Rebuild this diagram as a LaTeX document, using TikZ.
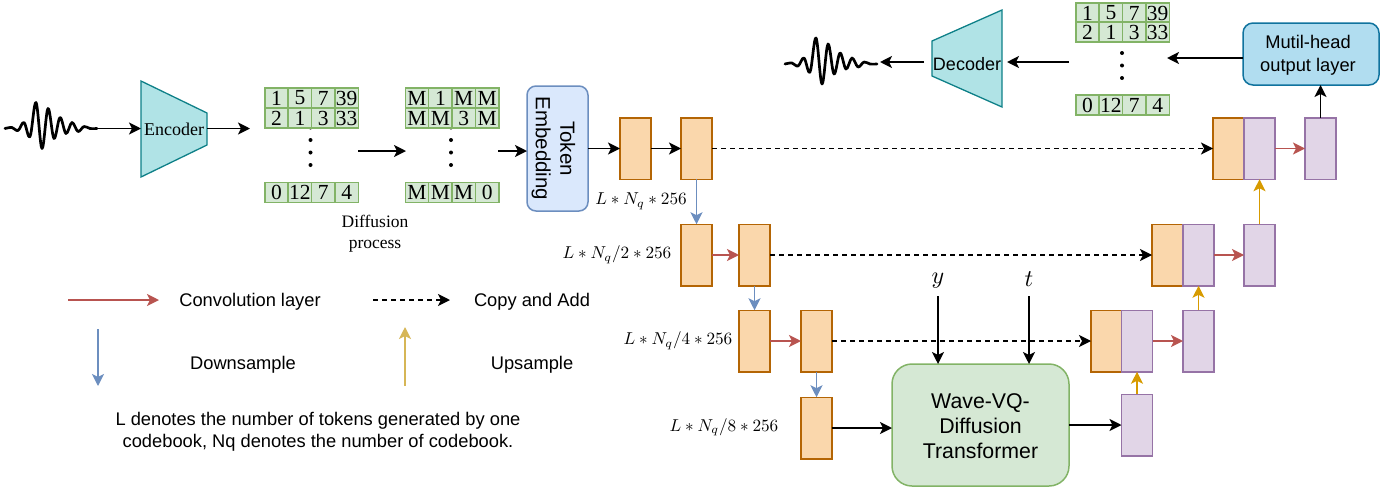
\documentclass[tikz,border=0pt]{standalone}
\usepackage{fontspec}
\setmainfont{Liberation Sans}
\newfontfamily\serifface{Liberation Serif}
\usetikzlibrary{arrows.meta}
\definecolor{orf}{HTML}{FAD7AC}\definecolor{ord}{HTML}{B46504}
\definecolor{puf}{HTML}{E1D5E7}\definecolor{pud}{HTML}{9673A6}
\definecolor{grf}{HTML}{D5E8D4}\definecolor{grd}{HTML}{82B366}
\definecolor{tef}{HTML}{B0E3E6}\definecolor{ted}{HTML}{0E8088}
\definecolor{blf}{HTML}{DAE8FC}\definecolor{bld}{HTML}{6C8EBF}
\definecolor{skf}{HTML}{B1DDF0}\definecolor{skd}{HTML}{10739E}
\definecolor{redc}{HTML}{B85450}\definecolor{goldc}{HTML}{D79B00}\definecolor{goldl}{HTML}{D6B656}
\tikzset{
 orangeb/.style={draw=ord,fill=orf,line width=1.5pt,minimum width=31pt,minimum height=61.5pt,inner sep=0,outer sep=0},
 purpleb/.style={draw=pud,fill=puf,line width=1.5pt,minimum width=31pt,minimum height=61.5pt,inner sep=0,outer sep=0},
 cell/.style={draw=grd,fill=grf,line width=1.5pt,minimum width=23.4pt,minimum height=20pt,inner sep=0,outer sep=0,font=\serifface\fontsize{21.5}{21.5}\selectfont},
 tip/.style={-{Stealth[length=12pt,width=12pt,inset=3pt]}},
 bk/.style={tip,line width=1.9pt,black},
 rd/.style={tip,line width=1.9pt,redc},
 bl/.style={tip,line width=1.9pt,bld},
 gd/.style={tip,line width=1.9pt,goldc},
 dsh/.style={-{Stealth[length=12pt,width=12pt,inset=3pt]},line width=1.4pt,black,dash pattern=on 4.5pt off 4.5pt},
 lab/.style={font=\fontsize{18.3}{22}\selectfont,inner sep=0,align=center},
 mlab/.style={scale=1.72,inner sep=0},
 bigm/.style={scale=2.4,inner sep=0},
 wav/.style={line width=2.7pt,black,line join=round,line cap=round},
}
\newcommand{\tokrow}[7]{%
 \node[cell] (#1a) at (#2,#3) {#4};
 \node[cell] (#1b) at (#2+23.4,#3) {#5};
 \node[cell] (#1c) at (#2+46.8,#3) {#6};
 \node[cell] (#1d) at (#2+70.2,#3) {#7};}
\newcommand{\vdotsat}[2]{%
 \foreach \d in {0,12.5,25,37.5}{\fill[black] (#1,#2+\d) circle (2pt);}}
\newcommand{\wavedraw}[2]{%
 \draw[wav,xshift=#1 pt,yshift=-#2 pt] plot[smooth,tension=0.6] coordinates {(5,0)(12,-1)(18,2)(24,-6)(30,8)(36,-26)(42,20)(48,-20)(54,10)(60,-11)(66,5)(72,-6)(78,3)(84,-2)(90,0)(97,0)};}
\begin{document}
\begin{tikzpicture}[x=1pt,y=-1pt]
\useasboundingbox (0,0) rectangle (1396,491);
% waves
\wavedraw{0}{128.5}
\wavedraw{780}{64}
\coordinate (wa) at (97,128.5);
\coordinate (wb) at (880,62);
% encoder
\draw[fill=tef,draw=ted,line width=1.3pt] (141,81) -- (207,113) -- (207,145) -- (141,177) -- cycle;
\node[inner sep=0,font=\serifface\fontsize{18}{18}\selectfont] (enc) at (174,129.5) {Encoder};
\coordinate (encl) at (141,128.5);
\coordinate (encr) at (207,128.5);
\coordinate (encout) at (250,128.5);
\draw[bk] (wa) -- (encl);
\draw[bk] (encr) -- (encout);
% decoder
\draw[fill=tef,draw=ted,line width=1.3pt] (1002,10) -- (932,41) -- (932,76) -- (1002,107) -- cycle;
\node[inner sep=0,font=\fontsize{18}{18}\selectfont] (dec) at (967,64) {Decoder};
\coordinate (decr) at (1007,62);
\coordinate (decl) at (924,62);
\coordinate (decin) at (1069,62);
\draw[bk] (decin) -- (decr);
\draw[bk] (decl) -- (wb);
% token tables
\vdotsat{310.5}{127.5}
\tokrow{ta}{276.5}{98}{1}{5}{7}{39}
\tokrow{tb}{276.5}{118}{2}{1}{3}{33}
\tokrow{tc}{276.5}{192.5}{0}{12}{7}{4}
\vdotsat{451}{127.5}
\tokrow{ma}{417}{98}{M}{1}{M}{M}
\tokrow{mb}{417}{118}{M}{M}{3}{M}
\tokrow{mc}{417}{192.5}{M}{M}{M}{0}
\vdotsat{1122}{40.5}
\tokrow{ua}{1087.5}{13}{1}{5}{7}{39}
\tokrow{ub}{1087.5}{32}{2}{1}{3}{33}
\tokrow{uc}{1087.5}{105}{0}{12}{7}{4}
\coordinate (da) at (358,151);
\coordinate (db) at (406,151);
\coordinate (dc) at (498,151);
\draw[bk] (da) -- (db);
\node[font=\serifface\fontsize{17.5}{21}\selectfont,align=center,inner sep=0] (diff) at (375,234) {Diffusion\\process};
% token embedding
\node[draw=bld,fill=blf,rounded corners=9pt,line width=1.5pt,minimum width=61pt,minimum height=125pt,inner sep=0,outer sep=0] (te) at (557.5,148.5) {};
\node[rotate=-90,align=center,inner sep=0,font=\fontsize{20.5}{24.5}\selectfont] (tel) at (553.5,148.5) {Token\\Embedding};
\draw[bk] (dc) -- (dc-|te.west);
% encoder blocks
\node[orangeb] (o1) at (635.5,148.5) {};
\node[orangeb] (o2) at (696.5,148.5) {};
\node[orangeb] (o3) at (696.5,255) {};
\node[orangeb] (o4) at (754.5,255) {};
\node[orangeb] (o5) at (754.5,341) {};
\node[orangeb] (o6) at (816.5,341) {};
\node[orangeb] (o7) at (816.5,428) {};
% decoder blocks
\node[orangeb] (r1) at (1228.5,148.5) {};
\node[purpleb] (p1) at (1259.5,148.5) {};
\node[purpleb] (q1) at (1320.5,148.5) {};
\node[orangeb] (r2) at (1167.5,255) {};
\node[purpleb] (p2) at (1198.5,255) {};
\node[purpleb] (q2) at (1259.5,255) {};
\node[orangeb] (r3) at (1106.5,341) {};
\node[purpleb] (p3) at (1137,341) {};
\node[purpleb] (q3) at (1198.5,341) {};
\node[purpleb] (q4) at (1137,425) {};
% transformer
\node[draw=grd,fill=grf,rounded corners=20pt,line width=1.5pt,minimum width=177pt,minimum height=122pt,inner sep=0,outer sep=0] (tf) at (980.5,425) {};
\node[align=center,inner sep=0,font=\fontsize{21.3}{25}\selectfont] (tfl) at (980.5,426) {Wave-VQ-\\Diffusion\\Transformer};
% output head
\node[draw=skd,fill=skf,rounded corners=10pt,line width=1.5pt,minimum width=136pt,minimum height=62pt,inner sep=0,outer sep=0] (mh) at (1311,54) {};
\node[align=center,inner sep=0,font=\fontsize{18.3}{23}\selectfont] (mhl) at (1308,55) {Mutil-head\\output layer};
\coordinate (mhin) at (1167,58);
\draw[bk] (mhin-|mh.west) -- (mhin);
\draw[bk] (q1.north) -- (q1.north|-mh.south);
% connectors
\draw[bk] (te) -- (o1);
\draw[bk] (o1) -- (o2);
\draw[dsh] (o2) -- (r1);
\draw[bl] (o2) -- (o3);
\draw[rd] (o3) -- (o4);
\draw[dsh] (o4) -- (r2);
\draw[bl] (o4) -- (o5);
\draw[rd] (o5) -- (o6);
\draw[dsh] (o6) -- (r3);
\draw[bl] (o6) -- (o7);
\draw[bk] (o7) -- (o7-|tf.west);
\draw[bk] (tf.east|-q4) -- (q4);
\draw[gd] (q4) -- (p3);
\draw[rd] (p3) -- (q3);
\draw[gd] (q3) -- (p2);
\draw[rd] (p2) -- (q2);
\draw[gd] (q2) -- (p1);
\draw[rd] (p1) -- (q1);
% y and t
\node[bigm] (yl) at (938,281) {$y$};
\node[bigm] (tl) at (1029,279) {$t$};
\coordinate (ys) at (938,296);
\coordinate (ts) at (1029,296);
\draw[bk] (ys) -- (ys|-tf.north);
\draw[bk] (ts) -- (ts|-tf.north);
% size labels
\node[mlab] (s1) at (641,201) {$L*N_q*256$};
\node[mlab] (s2) at (617,255) {$L*N_q/2*256$};
\node[mlab] (s3) at (678,341) {$L*N_q/4*256$};
\node[mlab] (s4) at (724,427) {$L*N_q/8*256$};
% legend
\coordinate (l1a) at (68,300);\coordinate (l1b) at (159,300);
\coordinate (l2a) at (373,300);\coordinate (l2b) at (450,300);
\coordinate (l3a) at (98,329);\coordinate (l3b) at (98,386);
\coordinate (l4a) at (405,386);\coordinate (l4b) at (405,327);
\draw[rd] (l1a) -- (l1b);
\draw[dsh] (l2a) -- (l2b);
\draw[bl] (l3a) -- (l3b);
\draw[tip,line width=1.9pt,goldl] (l4a) -- (l4b);
\node[lab] (n1) at (250,302) {Convolution layer};
\node[lab] (n2) at (532,302) {Copy and Add};
\node[lab] (n3) at (243,365) {Downsample};
\node[lab] (n4) at (532,365) {Upsample};
\node[lab] (n5) at (318,432) {L denotes the number of tokens generated by one\\codebook, Nq denotes the number of codebook.};
\end{tikzpicture}
\end{document}
